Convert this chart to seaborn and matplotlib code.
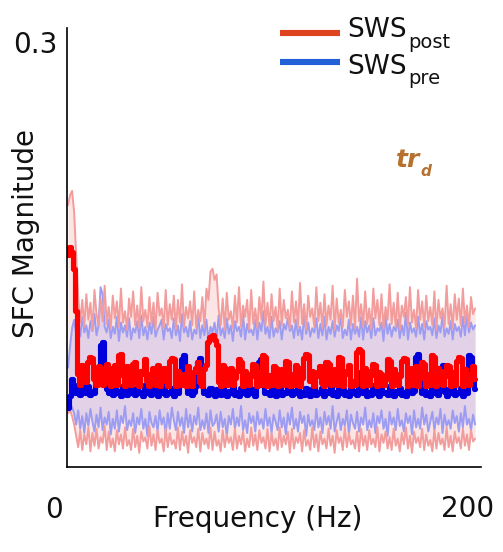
import numpy as np
import pandas as pd
import matplotlib
matplotlib.use("Agg")
import matplotlib.pyplot as plt
from matplotlib.lines import Line2D
import seaborn as sns

# ---- data: SFC magnitude x 1000, frequency 0..200 Hz in 1 Hz steps ----
freq = list(range(0, 201))

post_mean = [
    150,155,152,140,110,66,58,72,70,60, 74,78,77,62,58,71,69,58,66,73,
    60,57,70,72,58,79,80,65,57,71, 68,58,73,74,59,57,68,66,76,61,
    57,66,70,58,72,57,61,70,69,57, 75,77,76,57,68,58,64,66,57,71,
    62,57,67,70,74,60,57,69,72,88, 92,93,90,86,60,57,72,70,58,66,
    70,58,63,68,76,74,57,68,66,58, 64,73,72,57,67,58,79,78,57,65,
    58,71,70,57,62,69,58,75,74,57, 66,58,72,70,57,63,77,80,79,61,
    68,57,64,67,71,59,57,74,73,58, 63,69,58,78,77,57,66,68,72,57,
    61,58,81,83,82,57,70,68,58,65, 73,72,57,67,66,58,62,76,75,57,
    69,66,58,64,75,77,76,57,68,70, 58,71,57,63,74,73,57,66,58,79,
    78,57,70,68,58,64,72,71,57,67, 58,75,78,77,57,69,66,58,63,71,
    62]
pre_mean = [
    42,50,62,58,52,55,51,60,53,52, 57,51,54,52,59,70,86,88,72,55,
    52,56,51,58,52,54,50,57,53,51, 60,52,55,51,56,52,53,50,58,52,
    54,51,57,52,50,55,52,61,51,53, 52,56,50,54,52,58,76,79,62,52,
    55,51,53,57,74,77,58,52,54,51, 56,52,50,55,53,51,57,52,50,54,
    52,59,51,53,50,56,52,54,51,60, 52,55,50,57,74,76,66,52,53,51,
    56,52,50,55,58,51,53,52,63,64, 51,54,52,57,50,53,51,56,52,50,
    55,58,51,53,52,56,50,54,52,60, 51,53,50,57,52,55,51,53,50,56,
    52,54,51,66,67,52,55,50,53,51, 58,52,54,50,56,52,53,51,57,52,
    50,54,52,56,51,53,50,55,58,52, 54,78,80,70,52,55,51,53,50,56,
    52,54,51,70,72,53,50,55,52,57, 51,53,52,56,50,54,52,79,78,62,
    55]
post_upper = [
    185,192,195,180,150,120,102,118,99,122, 104,116,97,125,108,100,119,103,128,101,
    113,98,121,105,117,99,126,102,110,97, 119,106,124,100,114,98,127,103,111,99,
    120,101,116,97,123,107,112,98,125,100, 115,104,121,97,118,102,129,99,113,105,
    117,100,124,98,111,103,120,99,126,118, 138,140,132,136,112,100,119,97,123,104,
    110,98,121,102,127,99,114,106,118,97, 125,101,112,98,120,104,131,100,116,99,
    122,103,113,97,126,100,118,105,111,98, 124,102,117,99,130,101,115,97,121,106,
    112,99,127,103,116,98,122,100,114,104, 128,97,119,102,111,99,125,106,117,100,
    121,98,133,103,115,99,124,101,112,97, 126,105,118,100,122,98,113,104,129,101,
    116,99,123,97,114,106,120,100,127,102, 111,98,125,104,117,99,121,103,113,100,
    124,97,118,105,112,99,128,101,115,98, 122,104,119,100,126,102,114,99,120,108,
    112]
pre_upper = [
    70,85,98,104,94,101,92,106,95,100, 91,103,96,108,93,100,127,122,99,95,
    104,91,99,94,106,89,102,95,100,92, 105,90,98,95,103,91,107,93,99,90,
    102,94,106,92,97,100,104,90,101,96, 98,91,105,93,100,89,108,95,99,92,
    103,90,97,94,106,91,100,93,104,89, 99,95,102,90,107,93,98,91,105,94,
    100,89,103,96,99,92,108,90,101,95, 97,93,104,90,102,96,110,94,99,91,
    106,92,98,95,103,90,101,97,105,96, 100,91,104,93,99,90,107,94,102,92,
    98,95,105,91,101,93,106,90,99,94, 103,92,100,96,108,91,97,93,104,90,
    101,94,99,92,106,90,103,95,100,91, 105,93,98,96,102,89,107,94,101,92,
    99,96,104,91,100,93,109,90,102,95, 98,92,106,94,101,90,103,97,99,93,
    105,91,100,95,107,92,98,94,103,90, 101,96,99,92,106,93,108,95,102,97,
    100]
post_lower = [
    38,40,36,30,22,14,26,12,23,16, 28,11,24,15,27,13,21,17,29,12,
    25,14,20,11,26,16,23,13,28,15, 19,12,27,14,22,10,25,18,21,13,
    29,15,23,12,26,17,20,11,27,14, 24,16,19,13,28,12,25,15,22,10,
    26,17,21,14,27,11,24,16,20,13, 28,12,25,15,19,11,26,14,23,17,
    21,12,27,13,22,16,25,11,20,14, 28,15,23,12,26,17,21,13,27,11,
    24,15,20,12,28,14,22,16,25,10, 27,13,21,17,24,11,26,15,19,12,
    28,14,23,11,25,16,20,13,27,15, 22,10,26,17,21,12,28,14,24,16,
    19,13,25,11,27,15,22,12,26,16, 20,14,28,11,23,17,25,13,21,12,
    27,15,20,11,24,16,28,13,22,10, 25,17,21,14,27,12,23,15,19,11,
    26,13,24,16,20,12,28,14,22,11, 25,17,21,13,27,15,23,12,26,18,
    20]
pre_lower = [
    40,45,42,38,30,40,27,36,24,38, 29,41,32,25,37,28,42,26,35,30,
    39,23,34,27,40,25,36,31,43,26, 33,29,38,24,35,30,41,27,34,22,
    39,31,28,36,25,40,30,35,23,38, 27,42,33,26,39,29,35,24,41,28,
    37,25,36,30,42,26,33,27,38,24, 40,29,31,37,25,39,28,34,22,36,
    30,41,27,35,29,43,26,33,24,38, 31,36,25,39,30,34,27,41,29,35,
    24,37,32,26,40,28,35,23,38,30, 42,27,34,25,39,31,36,22,37,29,
    33,26,41,28,35,24,39,30,36,27, 43,25,32,38,26,34,29,40,23,37,
    31,27,39,25,35,30,42,26,33,28, 38,24,36,31,40,27,34,22,39,30,
    35,26,41,29,33,25,38,31,36,23, 40,28,34,27,42,30,37,25,32,39,
    26,35,30,41,24,37,29,33,27,40, 31,36,25,38,28,43,30,34,26,37,
    30]

legend_labels = [("SWS", "post"), ("SWS", "pre")]

scale = 1000.0
df = pd.DataFrame({
    "freq": freq,
    "post_mean": np.array(post_mean) / scale,
    "pre_mean": np.array(pre_mean) / scale,
    "post_upper": np.array(post_upper) / scale,
    "pre_upper": np.array(pre_upper) / scale,
    "post_lower": np.array(post_lower) / scale,
    "pre_lower": np.array(pre_lower) / scale,
})

sns.set_theme(style="white")
plt.rcParams["font.family"] = ["DejaVu Sans"]

W, H = 503, 552
fig = plt.figure(figsize=(W / 100, H / 100), dpi=100)
ax = fig.add_axes([67 / W, 85 / H, 414 / W, 439 / H])

RED_BAND = "#f39c9c"
BLUE_BAND = "#9c9cf3"

ax.fill_between(df["freq"], df["post_lower"], df["post_upper"], color="#f08a8a", alpha=0.22, lw=0)
ax.fill_between(df["freq"], df["pre_lower"], df["pre_upper"], color="#8a8af0", alpha=0.22, lw=0)

for col, c in [("pre_upper", BLUE_BAND), ("pre_lower", BLUE_BAND),
               ("post_upper", RED_BAND), ("post_lower", RED_BAND)]:
    sns.lineplot(data=df, x="freq", y=col, ax=ax, color=c, lw=1.4, legend=False)

sns.lineplot(data=df, x="freq", y="pre_mean", ax=ax, color="#0000dd", lw=3.7,
             drawstyle="steps-mid", legend=False)
sns.lineplot(data=df, x="freq", y="post_mean", ax=ax, color="#ff0000", lw=3.7,
             drawstyle="steps-mid", legend=False)

ax.set_xlim(-0.5, 202.9)
ax.set_ylim(0, 0.31)
ax.set_xticks([])
ax.set_yticks([])
ax.set_xlabel("")
ax.set_ylabel("")
for s in ["top", "right"]:
    ax.spines[s].set_visible(False)
for s in ["left", "bottom"]:
    ax.spines[s].set_color("black")
    ax.spines[s].set_linewidth(1.2)

def fx(px):
    return px / W

def fy(py):
    return 1 - py / H

FS = 20
TXT = "#111111"
fig.text(fx(35), fy(53), "0.3", fontsize=FS, ha="center", va="baseline", color=TXT)
fig.text(fx(54), fy(518), "0", fontsize=FS, ha="center", va="baseline", color=TXT)
fig.text(fx(468), fy(517), "200", fontsize=FS, ha="center", va="baseline", color=TXT)
fig.text(fx(258), fy(527), "Frequency (Hz)", fontsize=FS, ha="center", va="baseline", color=TXT)
fig.text(fx(26), fy(234), "SFC Magnitude", fontsize=FS, ha="center", va="center",
         rotation=90, color=TXT)

BROWN = "#b8702e"
fig.text(fx(396), fy(167), "tr", fontsize=18, fontweight="bold", fontstyle="italic",
         color=BROWN, ha="left", va="baseline")
fig.text(fx(420), fy(176), "d", fontsize=11, fontweight="bold", fontstyle="italic",
         color=BROWN, ha="left", va="baseline")

# legend (line handles + labels with subscripts)
leg_colors = ["#de4420", "#2260d8"]
leg_line_y = [33, 62]
leg_base_y = [37, 74]
leg_sub_y = [48, 84]
for (main, sub), c, ly, by, sy in zip(legend_labels, leg_colors, leg_line_y, leg_base_y, leg_sub_y):
    fig.add_artist(Line2D([fx(280), fx(340)], [fy(ly), fy(ly)], transform=fig.transFigure,
                          color=c, lw=4.4, solid_capstyle="butt"))
    fig.text(fx(347), fy(by), main, fontsize=19, ha="left", va="baseline", color=TXT)
    fig.text(fx(408), fy(sy), sub, fontsize=14, ha="left", va="baseline", color=TXT)

fig.savefig("out.png", dpi=100)
